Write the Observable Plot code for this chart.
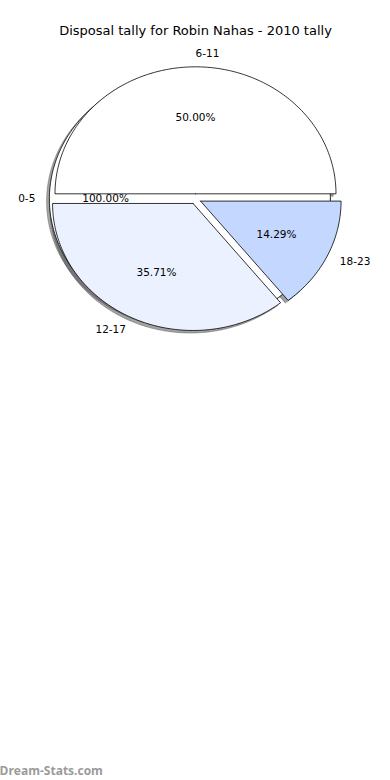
<!DOCTYPE html>
<html>
<head>
<meta charset="utf-8">
<script src="https://cdn.jsdelivr.net/npm/d3@7"></script>
<script src="https://cdn.jsdelivr.net/npm/@observablehq/plot@0.6"></script>
<style>
  html, body { margin: 0; padding: 0; background: #fff; }
  svg { display: block; }
</style>
</head>
<body>
<div id="chart"></div>
<script>
// Data
const title = "Disposal tally for Robin Nahas - 2010 tally";
const categories = ["0-5", "6-11", "12-17", "18-23"];
const shares = [100.00, 50.00, 35.71, 14.29];           // percent of a full turn each wedge spans
const pctLabels = ["100.00%", "50.00%", "35.71%", "14.29%"];
const colors = ["#ffffff", "#ffffff", "#ebf1fe", "#c4d7fe"];
const watermark = "Dream-Stats.com";

// Pie parameters (matplotlib-like)
const explode = 0.04, labelDist = 1.1, pctDist = 0.6, shadowOffset = 0.02;

// Build wedge geometry from shares
let cum = 0;
const wedges = categories.map((c, i) => {
  const a1 = cum * 3.6, a2 = (cum + shares[i]) * 3.6;
  cum += shares[i];
  const full = Math.abs(a2 - a1 - 360) < 1e-9;
  const mid = (a1 + a2) / 2 * Math.PI / 180;
  const ox = explode * Math.cos(mid), oy = explode * Math.sin(mid);
  const pts = full ? [] : [{x: ox, y: oy}];
  const n = Math.max(2, Math.ceil((a2 - a1) / 1));
  for (let k = 0; k <= n; k++) {
    const t = (a1 + (a2 - a1) * k / n) * Math.PI / 180;
    pts.push({x: ox + Math.cos(t), y: oy + Math.sin(t)});
  }
  if (!full) pts.push({x: ox, y: oy});
  const cm = Math.cos(mid), sm = Math.sin(mid);
  return {
    cat: c, pts, color: colors[i],
    label: {x: ox + labelDist * cm, y: oy + labelDist * sm, text: c, anchor: cm > 0 ? "start" : "end"},
    pct: {x: ox + pctDist * cm, y: oy + pctDist * sm, text: pctLabels[i]}
  };
});

function shade(hex) {
  const c = d3.rgb(hex);
  return d3.rgb(c.r * 0.3, c.g * 0.3, c.b * 0.3).formatHex();
}

const W = 390, H = 780;
const cxPx = 195, cyPx = 198.4, sx = 140.5, sy = 127;

const marks = [];
// shadows
wedges.forEach(w => {
  marks.push(Plot.line(w.pts.map(p => ({x: p.x - shadowOffset, y: p.y - shadowOffset})), {
    x: "x", y: "y", fill: shade(w.color), fillOpacity: 0.5,
    stroke: shade(w.color), strokeOpacity: 0.5, strokeWidth: 0.8, curve: "linear"
  }));
});
// wedges
wedges.forEach(w => {
  marks.push(Plot.line(w.pts, {
    x: "x", y: "y", fill: w.color, stroke: "#000", strokeWidth: 0.8,
    strokeLinejoin: "miter", curve: "linear"
  }));
});
// labels (matplotlib: left-aligned on the right side, right-aligned on the left side)
const labels = wedges.map(w => w.label);
for (const anchor of ["start", "end"]) {
  marks.push(Plot.text(labels.filter(d => d.anchor === anchor), {
    x: "x", y: "y", text: "text", textAnchor: anchor,
    fontSize: 10.5, fill: "#000", lineAnchor: "middle"
  }));
}
marks.push(Plot.text(wedges.map(w => w.pct), {
  x: "x", y: "y", text: "text", textAnchor: "middle",
  fontSize: 10.5, fill: "#000", lineAnchor: "middle"
}));
// title
marks.push(Plot.text([title], {
  frameAnchor: "top", dy: 30, text: d => d, fontSize: 13, fill: "#000", lineAnchor: "middle"
}));
// watermark
marks.push(Plot.text([watermark], {
  frameAnchor: "bottom-left", dx: -1, dy: -9, text: d => d, fontSize: 12,
  fontWeight: "bold", fill: "#9a9a9a", textAnchor: "start", lineAnchor: "middle",
  fontFamily: "Open Sans"
}));

const chart = Plot.plot({
  width: W, height: H,
  margin: 0,
  style: {fontFamily: "DejaVu Sans", background: "#fff"},
  x: {domain: [(0 - cxPx) / sx, (W - cxPx) / sx], range: [0, W], axis: null},
  y: {domain: [(cyPx - H) / sy, cyPx / sy], range: [H, 0], axis: null},
  marks
});
document.getElementById("chart").appendChild(chart);
</script>
</body>
</html>
